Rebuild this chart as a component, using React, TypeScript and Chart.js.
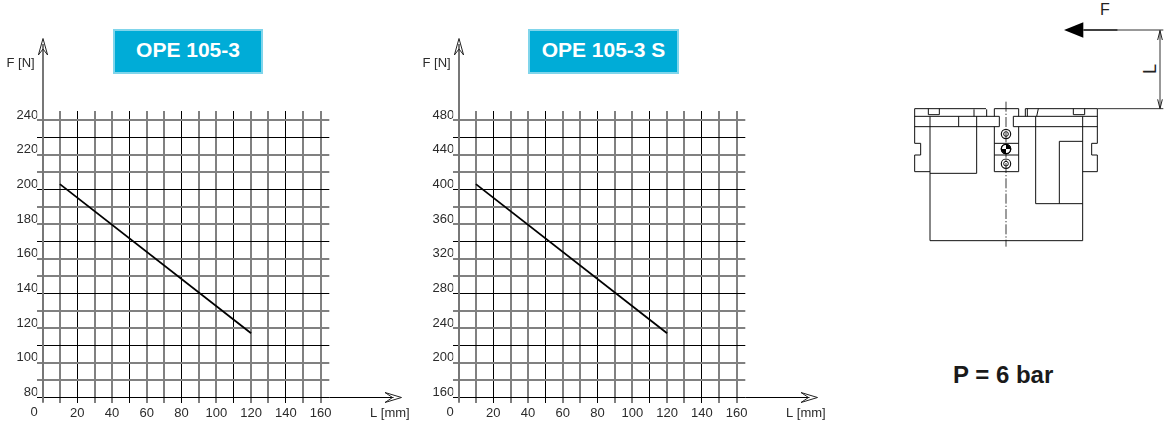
import React, { useEffect, useRef } from "react";
import { Chart, registerables } from "chart.js";

Chart.register(...registerables);

const FONT = '"Liberation Sans", Arial, sans-serif';
const TEXT = "#2b2b2b";

// Data
const lengthTicks = [0, 10, 20, 30, 40, 50, 60, 70, 80, 90, 100, 110, 120, 130, 140, 150, 160];
const forceTicksA = [80, 90, 100, 110, 120, 130, 140, 150, 160, 170, 180, 190, 200, 210, 220, 230, 240];
const forceTicksB = [160, 180, 200, 220, 240, 260, 280, 300, 320, 340, 360, 380, 400, 420, 440, 460, 480];
const lineLengths = [10, 120];
const forceA = [203, 117];
const forceB = [406, 234];

type Cfg = { ticks: number[]; values: number[]; min: number; max: number };

const axesPlugin = {
  id: "axes",
  afterDraw(chart: any) {
    const { ctx, scales, chartArea } = chart;
    const x0 = Math.round(scales.x.getPixelForValue(0));
    const yBase = Math.floor(scales.y.getPixelForValue(scales.y.options.afterBaseValue)) + 0.5;
    ctx.save();
    // y axis
    ctx.strokeStyle = "#777";
    ctx.lineWidth = 2;
    ctx.beginPath();
    ctx.moveTo(x0, 44);
    ctx.lineTo(x0, chartArea.bottom);
    ctx.stroke();
    ctx.strokeStyle = "#222";
    ctx.lineWidth = 1;
    ctx.beginPath();
    ctx.moveTo(x0 - 4.6, 55);
    ctx.lineTo(x0, 38.5);
    ctx.lineTo(x0 + 4.6, 55);
    ctx.lineTo(x0, 49);
    ctx.closePath();
    ctx.stroke();
    // x axis
    const tip = 401.5;
    ctx.strokeStyle = "#000";
    ctx.beginPath();
    ctx.moveTo(chartArea.right, yBase);
    ctx.lineTo(tip - 8, yBase);
    ctx.stroke();
    ctx.strokeStyle = "#222";
    ctx.beginPath();
    ctx.moveTo(tip - 16.5, yBase - 5);
    ctx.lineTo(tip, yBase);
    ctx.lineTo(tip - 16.5, yBase + 5);
    ctx.lineTo(tip - 9, yBase);
    ctx.closePath();
    ctx.stroke();
    // text
    ctx.fillStyle = TEXT;
    ctx.font = `13px ${FONT}`;
    ctx.textBaseline = "middle";
    ctx.textAlign = "left";
    ctx.fillText("F [N]", 6.5, 63.5);
    ctx.fillText("L [mm]", 370, 413.5);
    ctx.textAlign = "center";
    ctx.fillText("0", x0 - 9, 412.5);
    ctx.restore();
  },
};

function PlotChart({ cfg, left }: { cfg: Cfg; left: number }) {
  const ref = useRef<HTMLCanvasElement>(null);
  useEffect(() => {
    const { ticks, values, min, max } = cfg;
    const step = (ticks[ticks.length - 1] - ticks[0]) / 160 * 10;
    const crispY = (v: number) => Math.round((ticks[ticks.length - 2] - v) / step) % 3 === 0;
    const crispX = (v: number) => (v - 20) % 30 === 0;
    const chart = new Chart(ref.current as HTMLCanvasElement, {
      type: "scatter",
      data: {
        datasets: [
          {
            data: lineLengths.map((x, i) => ({ x, y: values[i] })),
            showLine: true,
            borderColor: "#000",
            borderWidth: 1.8,
            pointRadius: 0,
          },
        ],
      },
      plugins: [axesPlugin],
      options: {
        animation: false,
        responsive: false,
        devicePixelRatio: 1,
        layout: { padding: { left: 0, right: 90.7, top: 111, bottom: 0 } },
        plugins: { legend: { display: false }, tooltip: { enabled: false } },
        scales: {
          x: {
            type: "linear",
            min: -3,
            max: 165,
            border: { display: false },
            afterFit: (s: any) => { s.height = 25.3; },
            afterBuildTicks: (s: any) => { s.ticks = lengthTicks.map((value) => ({ value })); },
            grid: {
              drawTicks: false,
              tickLength: 0,
              color: (c: any) => (crispX(c.tick.value) ? "#000" : "#808080"),
              lineWidth: (c: any) => (crispX(c.tick.value) ? 1 : c.tick.value === 0 ? 0 : 2),
            },
            ticks: {
              autoSkip: false,
              maxRotation: 0,
              padding: 3,
              color: TEXT,
              font: { family: FONT, size: 13 },
              callback: (v: any) => (v !== 0 && v % 20 === 0 ? String(v) : ""),
            },
          },
          y: {
            type: "linear",
            min,
            max,
            afterBaseValue: ticks[0],
            border: { display: false },
            afterFit: (s: any) => { s.width = 37.3; },
            afterBuildTicks: (s: any) => { s.ticks = ticks.map((value) => ({ value })); },
            grid: {
              drawTicks: false,
              tickLength: 0,
              color: (c: any) => (crispY(c.tick.value) ? "#000" : "#808080"),
              lineWidth: (c: any) => (crispY(c.tick.value) ? 1 : 2),
            },
            ticks: {
              autoSkip: false,
              padding: -1,
              labelOffset: -5,
              color: TEXT,
              font: { family: FONT, size: 13 },
              callback: (v: any) => ((v - ticks[0]) % (2 * step) === 0 ? String(v) : ""),
            },
          },
        },
      } as any,
    });
    return () => chart.destroy();
  }, [cfg]);
  return (
    <canvas
      ref={ref}
      width={420}
      height={428}
      style={{ position: "absolute", left, top: 0, width: 420, height: 428, display: "block" }}
    />
  );
}

function Badge({ left, width, text }: { left: number; width: number; text: string }) {
  return (
    <div
      style={{
        position: "absolute", left, top: 29, width, height: 45, boxSizing: "border-box",
        background: "#00acd7", border: "2px solid #80d5eb", color: "#fff",
        font: `bold 21px ${FONT}`, display: "flex", alignItems: "center", justifyContent: "center",
        paddingBottom: 3,
      }}
    >
      {text}
    </div>
  );
}

const diagramPaths = [
  "M74 326H288M115 326V344H148V326M252 328V349M290 328V349M74 349H328V380H74M74 326V430H92V465H74V515H120",
  "M120 349V722H578V349M120 520H260V349M206 349V380",
  "M313 349V326H386V349M313 380V515H386V380M313 430H386M313 465H386",
  "M406 349V326H622M412 326V349M445 326L440 349M550 326V344H584V326",
  "M370 349H622M370 380H622M370 349V380M622 326V430H605V465H622V515H578M437 349V611H578M508 611V424H578",
];

function Diagram() {
  return (
    <svg
      viewBox="0 0 831 750"
      width={277}
      height={250}
      style={{ position: "absolute", left: 890, top: 0 }}
    >
      <g fill="none" stroke="#111" strokeWidth={3}>
        {diagramPaths.map((d) => <path key={d} d={d} />)}
        <path d="M348 305V740" strokeDasharray="30 6 4 6" strokeWidth={2.5} />
        {[402, 447, 491].map((cy) => (
          <g key={cy}>
            <circle cx={348} cy={cy} r={14} strokeWidth={3.5} />
            <circle cx={348} cy={cy} r={7} />
          </g>
        ))}
      </g>
      <circle cx={348} cy={447} r={14} fill="#fff" stroke="#000" strokeWidth={4} />
      <path d="M348 433A14 14 0 0 1 362 447H334A14 14 0 0 0 348 461Z" fill="#000" />
      <path d="M522 90L580 67V113Z" fill="#000" />
      <path d="M580 90H683" stroke="#000" strokeWidth={4.5} />
      <path d="M683 90H820M622 326H820M810 90V326" stroke="#333" strokeWidth={3} fill="none" />
      <path d="M803 120L810 92L817 120M803 298L810 326L817 298" stroke="#222" strokeWidth={3} fill="none" />
      <text x={645} y={46} textAnchor="middle" fontFamily={FONT} fontSize={48} fill="#222">F</text>
      <text
        x={0}
        y={0}
        transform="translate(798 207) rotate(-90)"
        textAnchor="middle"
        fontFamily={FONT}
        fontSize={54}
        fill="#222"
      >
        L
      </text>
    </svg>
  );
}

const cfgA: Cfg = { ticks: forceTicksA, values: forceA, min: 76.9, max: 245.2 };
const cfgB: Cfg = { ticks: forceTicksB, values: forceB, min: 153.8, max: 490.4 };

export default function App() {
  return (
    <div style={{ position: "absolute", left: 0, top: 0, width: 1167, height: 428, overflow: "hidden", background: "#fff" }}>
      <PlotChart cfg={cfgA} left={0} />
      <PlotChart cfg={cfgB} left={416} />
      <Badge left={113} width={150} text="OPE 105-3" />
      <Badge left={528} width={151} text="OPE 105-3 S" />
      <Diagram />
      <div style={{ position: "absolute", left: 953, top: 361, font: `bold 24px ${FONT}`, color: "#1a1a1a", whiteSpace: "pre" }}>
        P = 6 bar
      </div>
    </div>
  );
}
